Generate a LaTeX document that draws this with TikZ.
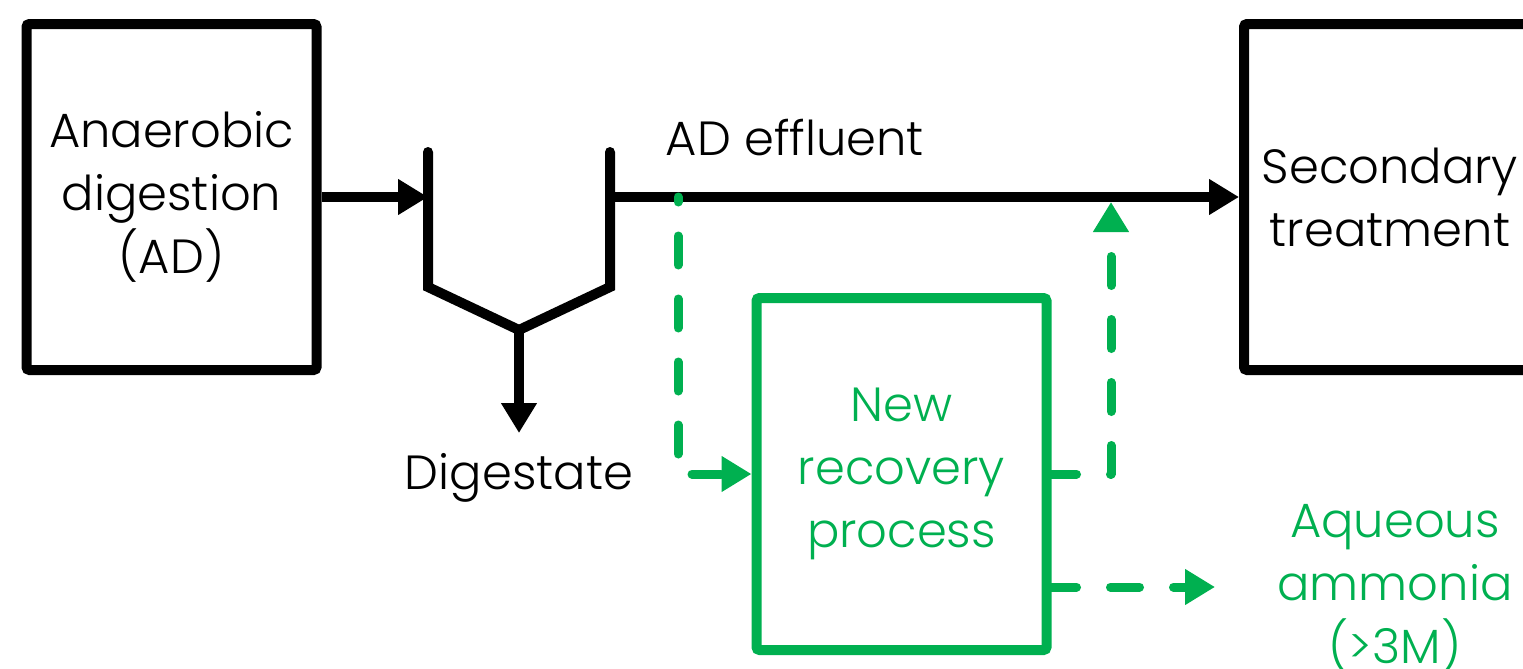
\documentclass[tikz,border=0pt]{standalone}
\usepackage{fontspec}
\setmainfont{Poppins}[UprightFont=* Light]
\usetikzlibrary{arrows.meta}
\definecolor{grn}{HTML}{00B050}
\begin{document}
\begin{tikzpicture}[x=0.5pt,y=-0.5pt,
  box/.style={draw, line width=5pt, rounded corners=1.5pt, inner sep=0pt,
    minimum width=145pt, minimum height=173pt, align=center,
    font=\fontsize{24}{31.5}\selectfont},
  gbox/.style={box, draw=grn, text=grn, minimum height=176pt},
  lbl/.style={align=center, font=\fontsize{24}{31.5}\selectfont, inner sep=0pt},
  tip/.style={-{Triangle[length=15pt,width=17pt]}},
  blk/.style={line width=5pt, line cap=round, line join=miter},
  arr/.style={blk, line cap=butt, tip},
  gdash/.style={draw=grn, line width=4.5pt, line cap=round, line join=round,
    dash pattern=on 14.5pt off 17pt, -{Triangle[length=15pt,width=17pt]}}
]
\useasboundingbox (0,0) rectangle (1523,669);

% boxes
\node[box] (ad) at (171.5,197) {Anaerobic\\digestion\\(AD)};
\node[box, minimum width=146pt] (sec) at (1390,197) {Secondary\\treatment};
\node[gbox] (rec) at (901.5,474) {New\\recovery\\process};

% splitter
\coordinate (s1) at (428,152);
\coordinate (s2) at (428,287);
\coordinate (s3) at (519,330);
\coordinate (s4) at (610,287);
\coordinate (s5) at (610,152);
\draw[blk] (s1) -- (s2) -- (s3) -- (s4) -- (s5);

% labels
\node[lbl] (eff) at (795,138) {AD effluent};
\node[lbl] (dg) at (519,478) {Digestate};
\node[lbl, text=grn] (aq) at (1395,588) {Aqueous\\ammonia\\(>3M)};

% coordinates
\coordinate (dtip) at (519,433);
\coordinate (g1) at (678,197);
\coordinate (g2) at (678,474);
\coordinate (u1) at (1111,474);
\coordinate (up) at (1111,202);
\coordinate (am) at (1215,587);

% black connectors
\draw[arr] (ad.east) -- (ad.east -| s1);
\draw[arr] (s3) -- (dtip);
\draw[arr] (ad.east -| s5) -- (sec.west);

% green dashed connectors
\draw[gdash, dash phase=12pt] (g1) -- (g2) -- (rec.west);
\draw[gdash, dash phase=2pt] (rec.east) -- (u1) -- (up);
\draw[gdash, dash phase=2pt] (rec.east |- am) -- (am);
\end{tikzpicture}
\end{document}
